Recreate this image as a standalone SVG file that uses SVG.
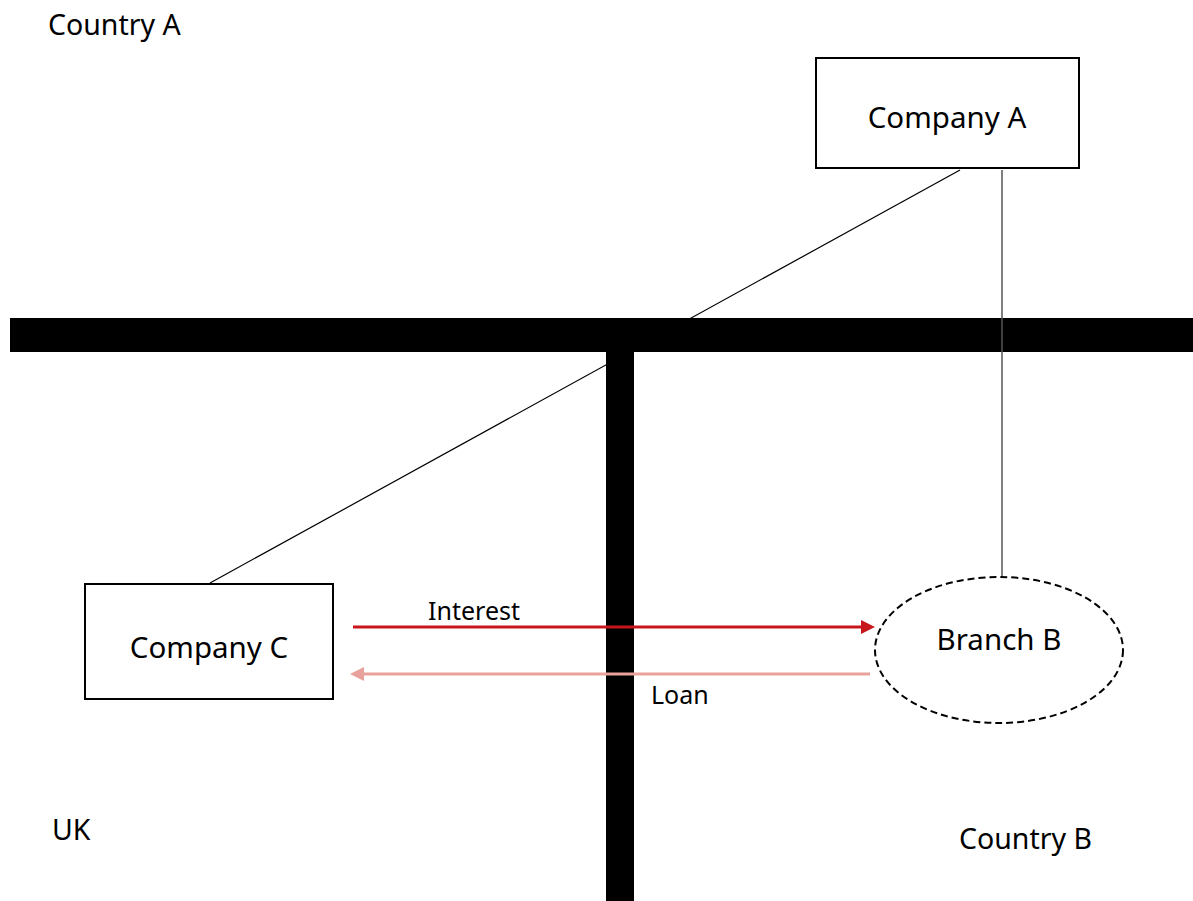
<svg xmlns="http://www.w3.org/2000/svg" width="1193" height="901" viewBox="0 0 1193 901">
<style>
text{font-family:"Noto Sans","Open Sans","DejaVu Sans",sans-serif;fill:#000}
.lbl{font-size:28.5px}
.node{font-size:29.5px;text-anchor:middle}
.small{font-size:25px}
.box{fill:#fff;stroke:#000;stroke-width:2}
.thin{stroke:#000;stroke-width:1.2;fill:none}
</style>
<rect width="1193" height="901" fill="#fff"/>
<g id="borders">
<rect x="10" y="318" width="1183" height="34" fill="#000"/>
<rect x="606" y="352" width="28" height="549" fill="#000"/>
</g>
<g id="connectors">
<line class="thin" x1="960" y1="170" x2="210" y2="583"/>
<line x1="1002" y1="170" x2="1002" y2="577" stroke="#555" stroke-width="1.5"/>
<line x1="353" y1="627" x2="862" y2="627" stroke="#C8161D" stroke-width="3"/>
<path d="M861,620 L875,627 L861,634 z" fill="#C8161D"/>
<line x1="870" y1="674" x2="363" y2="674" stroke="#E8A19B" stroke-width="3"/>
<path d="M364,667 L350,674 L364,681 z" fill="#E8A19B"/>
<text class="small" x="428" y="620">Interest</text>
<text class="small" x="651" y="704">Loan</text>
</g>
<g id="labels">
<text class="lbl" x="48" y="35">Country A</text>
<text class="lbl" x="52" y="840">UK</text>
<text class="lbl" x="959" y="849">Country B</text>
</g>
<g id="companyA">
<rect class="box" x="816" y="58" width="263" height="110"/>
<text class="node" x="947" y="128">Company A</text>
</g>
<g id="companyC">
<rect class="box" x="85" y="584" width="248" height="115"/>
<text class="node" x="209" y="658">Company C</text>
</g>
<g id="branchB">
<ellipse cx="999" cy="650" rx="124" ry="73" fill="#fff" stroke="#000" stroke-width="2" stroke-dasharray="7,4"/>
<text class="node" x="999" y="650">Branch B</text>
</g>
</svg>
